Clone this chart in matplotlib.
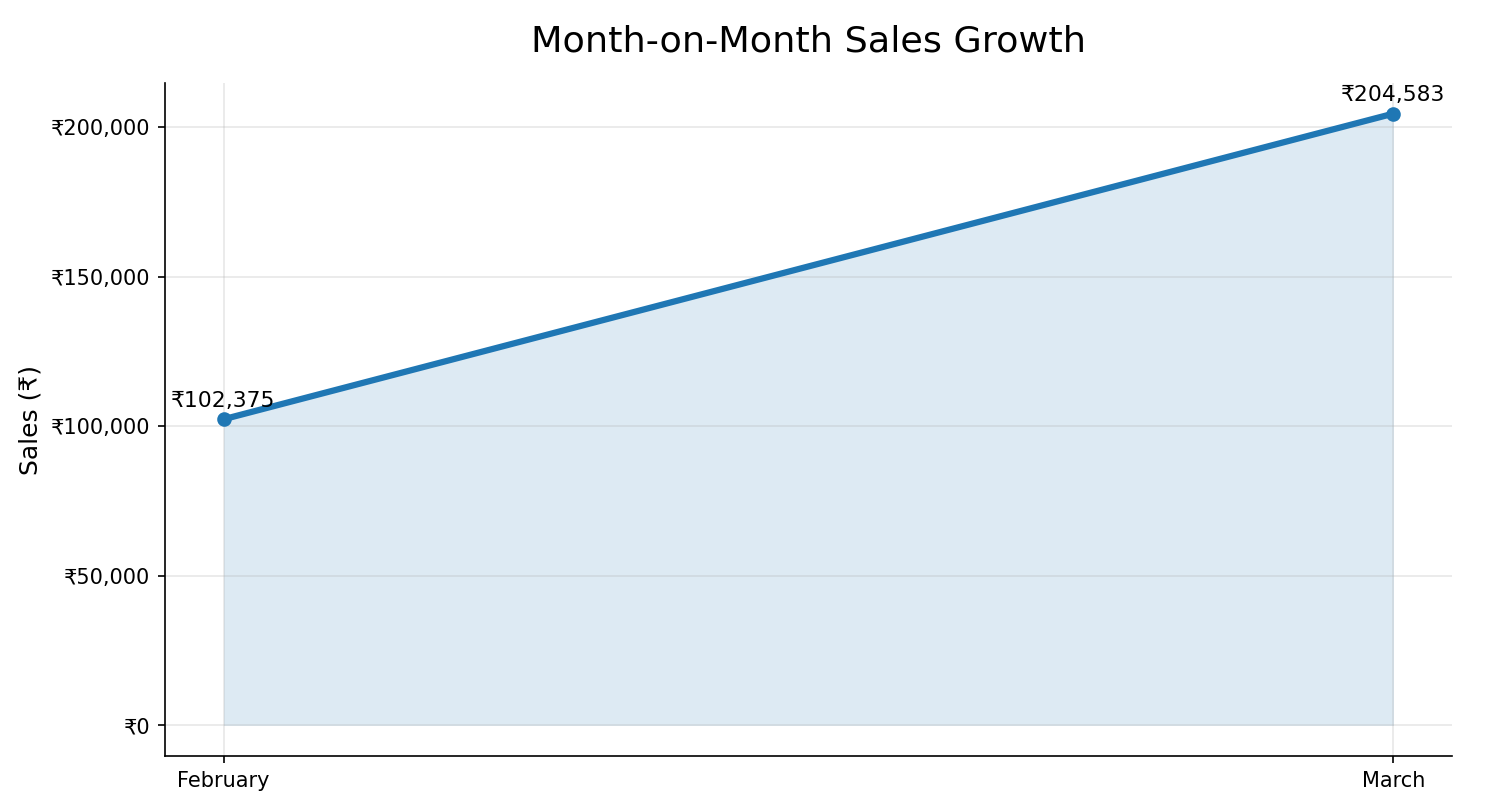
import matplotlib
matplotlib.use("Agg")
import matplotlib.pyplot as plt
from matplotlib.ticker import FuncFormatter

months = ["February", "March"]
sales = [102375, 204583]

fig, ax = plt.subplots(figsize=(1507 / 150, 809 / 150), dpi=150)

ax.plot(months, sales, marker="o", linewidth=3, markersize=6, color="#1f77b4")
ax.fill_between(months, sales, alpha=0.15, color="#1f77b4", linewidth=0)

for m, s in zip(months, sales):
    ax.annotate("₹{:,}".format(s), (m, s), textcoords="offset points",
                xytext=(0, 6), ha="center", fontsize=10.5)

ax.yaxis.set_major_formatter(FuncFormatter(lambda v, p: "₹{:,.0f}".format(v)))
ax.set_title("Month-on-Month Sales Growth", fontsize=17.5, pad=15)
ax.set_ylabel("Sales (₹)", fontsize=12)
ax.grid(True, alpha=0.3)
ax.spines["top"].set_visible(False)
ax.spines["right"].set_visible(False)

fig.subplots_adjust(left=0.1095, right=0.9635, top=0.8974, bottom=0.0655)
fig.savefig("out.png", dpi=150)
